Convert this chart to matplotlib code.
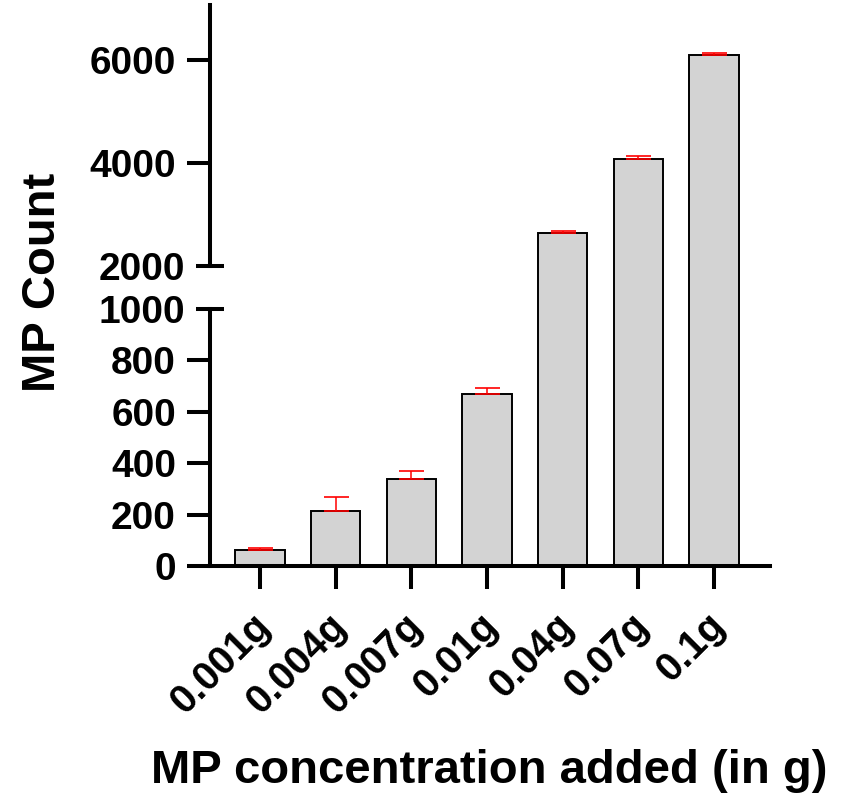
import matplotlib
matplotlib.use("Agg")
from matplotlib import pyplot as plt
from matplotlib.patches import Rectangle
from matplotlib.transforms import ScaledTranslation
import numpy as np

plt.rcParams['font.family'] = ['Liberation Sans', 'DejaVu Sans']
plt.rcParams['font.weight'] = 'bold'

# data
categories = ['0.001g', '0.004g', '0.007g', '0.01g', '0.04g', '0.07g', '0.1g']
mp_count = [62, 214, 340, 670, 2645, 4075, 6110]
mp_err = [7, 54, 30, 24, 40, 58, 40]

low_ticks = [0, 200, 400, 600, 800]
high_ticks = [4000, 6000]

W, H = 859, 798
fig = plt.figure(figsize=(W / 100, H / 100), dpi=100)

left = 210 / W
width = 560 / W
lo_bottom, lo_h = 1 - 566 / H, 257 / H
hi_bottom, hi_h = 1 - 266 / H, 261 / H
ax_lo = fig.add_axes([left, lo_bottom, width, lo_h])
ax_hi = fig.add_axes([left, hi_bottom, width, hi_h])

x = np.arange(len(categories))
lw_axis = 2.9
fs = 28
fs_label = 34

for ax in (ax_lo, ax_hi):
    bars = ax.bar(x, mp_count, width=0.65, color='#d3d3d3', edgecolor='black',
                  linewidth=1.4, zorder=2)
    ax.errorbar(x, mp_count, yerr=[np.zeros(len(mp_err)), mp_err], fmt='none',
                ecolor='red', elinewidth=1.1, capsize=9, capthick=1.2, zorder=3)
    ax.set_xlim(-0.661, 6.74)
    ax.spines['top'].set_visible(False)
    ax.spines['right'].set_visible(False)
    ax.spines['left'].set_linewidth(lw_axis)
    ax.spines['bottom'].set_linewidth(lw_axis)
    ax.tick_params(axis='y', which='major', direction='out', length=16.5, width=lw_axis,
                   labelsize=fs, pad=8)
    ax.tick_params(axis='y', which='minor', direction='inout', length=20, width=lw_axis,
                   labelsize=fs, pad=8)

# let the upper bars run down through the axis break
clip = Rectangle((left, lo_bottom + lo_h), width, hi_bottom + hi_h - lo_bottom - lo_h,
                 transform=fig.transFigure)
for p in bars:
    p.set_clip_path(clip)

ax_lo.set_ylim(0, 1000)
ax_lo.set_yticks(low_ticks)
ax_lo.set_yticks([1000], labels=['1000'], minor=True)
ax_lo.set_xticks(x)
ax_lo.set_xticklabels(categories, rotation=45, ha='right', va='center',
                      rotation_mode='anchor', fontsize=28.5)
ax_lo.tick_params(axis='x', direction='out', length=16.5, width=lw_axis, pad=22)
shift = ScaledTranslation(0.05, 0, fig.dpi_scale_trans)
for lab in ax_lo.get_xticklabels():
    lab.set_transform(lab.get_transform() + shift)

ax_hi.set_ylim(2000, 7080)
ax_hi.set_yticks(high_ticks)
ax_hi.set_yticks([2000], labels=['2000'], minor=True)
ax_hi.spines['bottom'].set_visible(False)
ax_hi.set_xticks([])

fig.text(43 / W, 1 - 282 / H, 'MP Count', rotation=90, ha='center', va='center',
         fontsize=fs_label)
fig.text(489 / W, 1 - 771 / H, 'MP concentration added (in g)', ha='center',
         va='center', fontsize=fs_label)

fig.savefig('out.png', dpi=100)
